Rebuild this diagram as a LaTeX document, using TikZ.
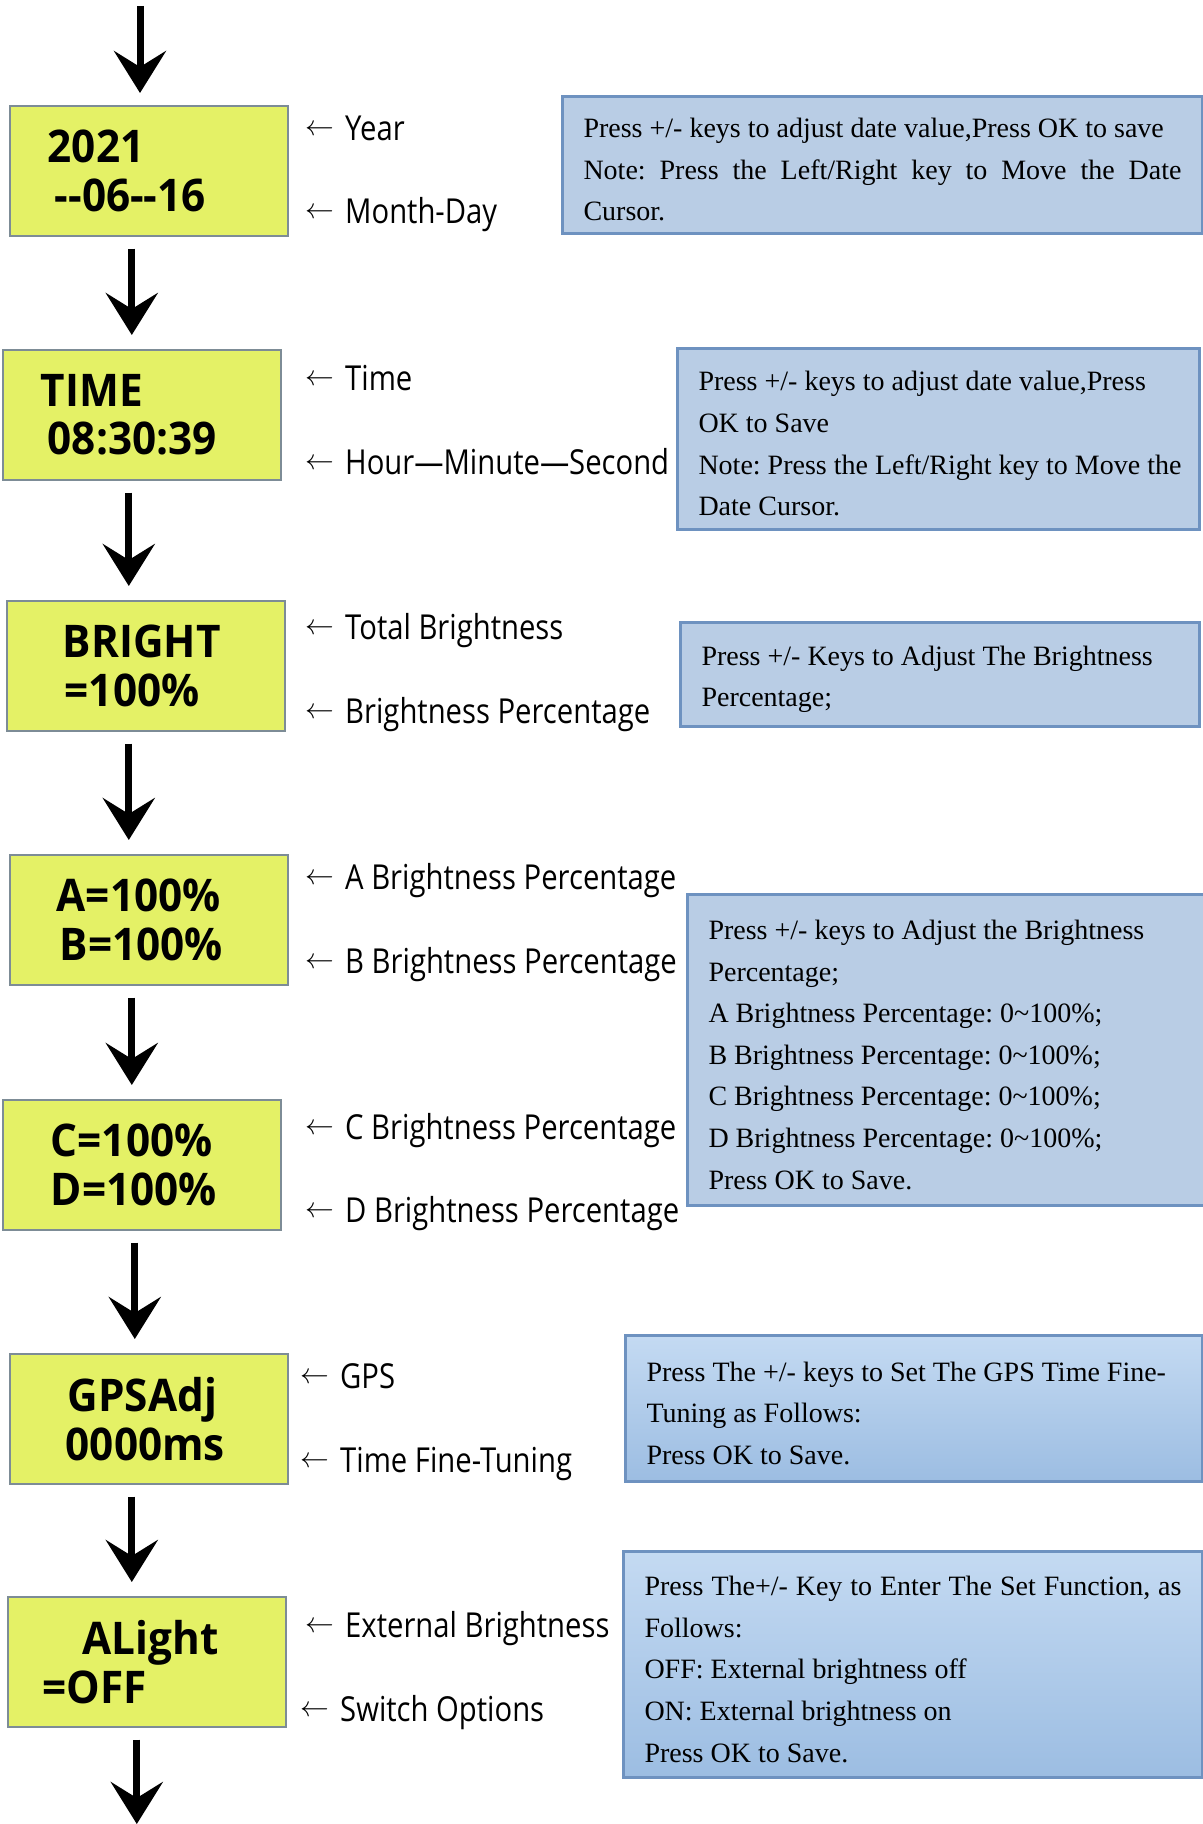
\documentclass[tikz,border=0pt]{standalone}
\usepackage{fontspec}
\setmainfont{Liberation Serif}
\newfontfamily\labelfont{Open Sans}[FakeStretch=0.85]
\newfontfamily\lcdfont{Open Sans}[FakeStretch=0.94]
\usetikzlibrary{arrows.meta,positioning}
\definecolor{lcdyellow}{RGB}{228,241,102}
\definecolor{lcdgrey}{RGB}{125,140,150}
\definecolor{noteblue}{RGB}{185,205,229}
\definecolor{notetop}{RGB}{196,218,242}
\definecolor{notebot}{RGB}{156,189,226}
\definecolor{noteedge}{RGB}{110,146,192}
\newcommand{\jline}[2]{\makebox[#1][s]{#2}}
\newcommand{\normspace}{\spaceskip=0pt\xspaceskip=0pt\relax}
\newcommand{\larr}{\raisebox{2.2pt}{\fontsize{15.5}{15.5}\selectfont$\leftarrow$}\hspace{5.5pt}}
\tikzset{
  lcd/.style={rectangle, draw=lcdgrey, line width=0.8pt, fill=lcdyellow, anchor=north west,
              inner sep=0pt, text width=139pt, minimum height=65pt, align=left,
              font=\lcdfont\bfseries\fontsize{22.5}{24.4}\selectfont},
  lbl/.style={anchor=west, inner sep=0pt, text height=12.3pt, text depth=0pt,
              font=\labelfont\fontsize{17.2}{20}\selectfont},
  note/.style={rectangle, draw=noteedge, line width=1.5pt, fill=noteblue, anchor=north west,
               inner xsep=10.5pt, inner ysep=0pt, align=left,
               font=\fontsize{14}{20.8}\selectfont\frenchspacing},
  notegrad/.style={top color=notetop, bottom color=notebot},
  flow/.style={-{Stealth[length=21pt,width=26pt,inset=8pt]}, line width=3.5pt,
               shorten <=6pt, shorten >=7pt},
}

\begin{document}
\begin{tikzpicture}[x=0.5pt, y=-0.5pt]
  \useasboundingbox (0,0) rectangle (1203,1824);
  % screens
  \node[lcd] (date)   at (9,105)   {\hspace*{19pt}2021\\\hspace*{22.5pt}-\kern0pt-06-\kern0pt-16};
  \node[lcd] (time)   at (2,349)   {\hspace*{19pt}TIME\\\hspace*{22.5pt}08:30:39};
  \node[lcd] (bright) at (6,600)   {\hspace*{28pt}BRIGHT\\\hspace*{29pt}=100\%};
  \node[lcd] (abpct)  at (9,854)   {\hspace*{23.5pt}A=100\%\\\hspace*{25pt}B=100\%};
  \node[lcd] (cdpct)  at (2,1099)  {\hspace*{24pt}C=100\%\\\hspace*{24pt}D=100\%};
  \node[lcd] (gps)    at (9,1353)  {\hspace*{29pt}GPSAdj\\\hspace*{28pt}0000ms};
  \node[lcd] (alight) at (7,1596)  {\hspace*{37.5pt}ALight\\\hspace*{17.5pt}=OFF};
  % labels
  \node[lbl] (year)  at (305,128)  {\larr Year};
  \node[lbl] (mday)  at (305,211)  {\larr Month-Day};
  \node[lbl] (tlbl)  at (305,378)  {\larr Time};
  \node[lbl] (hms)   at (305,462)  {\larr Hour—Minute—Second};
  \node[lbl] (tot)   at (305,627)  {\larr Total Brightness};
  \node[lbl] (bpct)  at (305,711)  {\larr Brightness Percentage};
  \node[lbl] (apc)   at (305,877)  {\larr A Brightness Percentage};
  \node[lbl] (bpc)   at (305,961)  {\larr B Brightness Percentage};
  \node[lbl] (cpc)   at (305,1127) {\larr C Brightness Percentage};
  \node[lbl] (dpc)   at (305,1210) {\larr D Brightness Percentage};
  \node[lbl] (gpsl)  at (300,1376) {\larr GPS};
  \node[lbl] (tune)  at (300,1460) {\larr Time Fine-Tuning};
  \node[lbl] (ext)   at (305,1625) {\larr External Brightness};
  \node[lbl] (sw)    at (300,1709) {\larr Switch Options};
  % notes
  \node[note, text width=299pt, minimum height=68.5pt] (n1) at (561,95)
    {\normspace\strut\mbox{Press +/- keys to adjust date value,Press OK to save}\\\jline{299pt}{Note: Press the Left/Right key to Move the Date}\\Cursor.};
  \node[note, text width=240pt, minimum height=90.5pt] (n2) at (676,347)
    {\normspace\strut\mbox{Press +/- keys to adjust date value,Press}\\OK to Save\\\mbox{Note: Press the Left/Right key to Move the}\\Date Cursor.};
  \node[note, text width=238.5pt, minimum height=52pt] (n3) at (679,621)
    {\normspace\strut\mbox{Press +/- Keys to Adjust The Brightness}\\Percentage;};
  \node[note, text width=239pt, minimum height=155.5pt] (n4) at (686,893)
    {\normspace\strut\mbox{Press +/- keys to Adjust the Brightness}\\Percentage;\\A Brightness Percentage: 0\textasciitilde100\%;\\B Brightness Percentage: 0\textasciitilde100\%;\\C Brightness Percentage: 0\textasciitilde100\%;\\D Brightness Percentage: 0\textasciitilde100\%;\\Press OK to Save.};
  \node[note, notegrad, text width=267.5pt, minimum height=73pt] (n5) at (624,1334)
    {\normspace\strut\mbox{Press The +/- keys to Set The GPS Time Fine-}\\Tuning as Follows:\\Press OK to Save.};
  \node[note, notegrad, text width=268.5pt, minimum height=113pt] (n6) at (622,1550)
    {\normspace\strut\jline{268.5pt}{Press The+/- Key to Enter The Set Function, as}\\Follows:\\OFF: External brightness off\\ON: External brightness on\\Press OK to Save.};
  % flow arrows
  \coordinate (top) at (140,6);
  \coordinate (end) at (136,1824);
  \draw[flow, shorten <=0pt, shorten >=6pt] (top) -- (top |- date.north);
  \foreach \a/\b/\dx in {date/time/-8.5, time/bright/-6.5, bright/abpct/-8.5,
                         abpct/cdpct/-8.5, cdpct/gps/-3.5, gps/alight/-8.5}
    \draw[flow] ([xshift=\dx pt]\a.south) -- ([xshift=\dx pt]\a.south |- \b.north);
  \draw[flow, shorten >=0pt] ([xshift=-5pt]alight.south) -- ([xshift=-5pt]alight.south |- end);
\end{tikzpicture}
\end{document}
